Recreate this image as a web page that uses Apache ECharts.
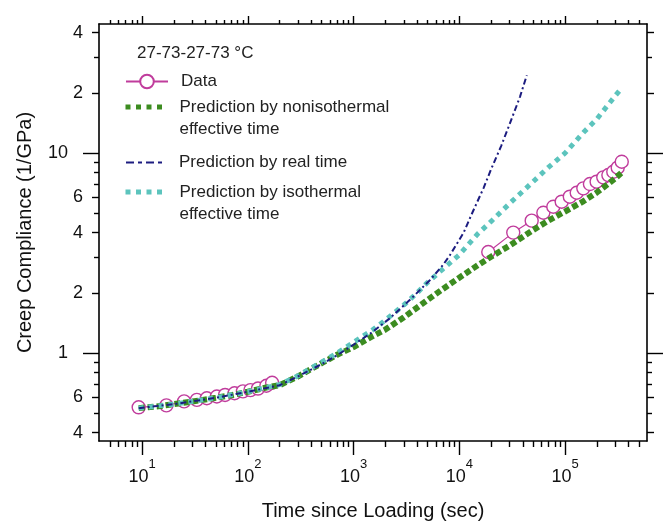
<!DOCTYPE html>
<html><head><meta charset="utf-8">
<script src="https://cdn.jsdelivr.net/npm/echarts@6/dist/echarts.min.js"></script>
<style>html,body{margin:0;padding:0;background:#fff}#c{width:667px;height:524px}</style>
</head><body><div id="c"></div>
<script>
const FONT = '"Liberation Sans", Arial, sans-serif';

// ---- measured data (time in s, compliance in 1/GPa) ----
const dataTime = [9.3, 17, 25, 33, 41, 51, 61, 75, 90, 106, 125, 150, 170,
  18800, 32400, 48400, 62400, 77500, 93000, 111000, 129000, 149000, 172000, 199000, 230000, 257000, 286000, 315000, 344000];
const dataCompliance = [0.535, 0.547, 0.573, 0.583, 0.594, 0.606, 0.617, 0.629, 0.643, 0.652, 0.664, 0.686, 0.71,
  3.2, 4.0, 4.59, 5.03, 5.39, 5.71, 6.05, 6.33, 6.66, 7.0, 7.19, 7.56, 7.76, 8.06, 8.45, 9.05];

// ---- prediction by nonisothermal effective time ----
const nonisoTime = [9.3, 15, 20, 30, 50, 70, 100, 150, 200, 300, 500, 700, 1000, 1500, 2000, 3000, 5000, 7000,
  10000, 15000, 20000, 30000, 50000, 70000, 100000, 150000, 200000, 250000, 300000, 340000];
const nonisoCompliance = [0.53, 0.543, 0.555, 0.572, 0.597, 0.615, 0.64, 0.672, 0.69, 0.765, 0.89, 0.98, 1.07, 1.21, 1.31, 1.51, 1.84, 2.09,
  2.38, 2.75, 3.03, 3.45, 4.12, 4.6, 5.1, 5.75, 6.35, 6.95, 7.5, 7.95];

// ---- prediction by real time ----
const realTime = [9.3, 20, 50, 100, 200, 300, 500, 700, 1000, 1500, 2200, 3400, 5300, 7000, 8200,
  11000, 13000, 17000, 20000, 25000, 30000, 37500, 43500];
const realCompliance = [0.53, 0.555, 0.597, 0.64, 0.69, 0.765, 0.88, 0.975, 1.10, 1.27, 1.49, 1.84, 2.32, 2.75, 3.1,
  4.0, 4.9, 6.7, 8.3, 10.9, 14.0, 19.1, 24.5];

// ---- prediction by isothermal effective time ----
const isoTime = [9.3, 20, 50, 100, 200, 300, 500, 700, 1000, 1500, 2000, 3000, 4000, 5000, 7000,
  10000, 15000, 20000, 30000, 50000, 70000, 100000, 150000, 200000, 300000, 345000];
const isoCompliance = [0.53, 0.555, 0.597, 0.64, 0.695, 0.77, 0.90, 1.0, 1.13, 1.30, 1.46, 1.74, 2.0, 2.25, 2.63,
  3.1, 3.95, 4.55, 5.6, 7.2, 8.5, 10.0, 12.7, 14.8, 19.4, 21.2];

// ---- axes ----
const xMin = 3.92, xMax = 5.96e5, yMin = 0.363, yMax = 44.2;
const xMajorTicks = [10, 100, 1000, 10000, 100000];
const xMajorExponents = ['1', '2', '3', '4', '5'];
const xMinorTicks = [5, 6, 7, 8, 9, 20, 30, 40, 50, 60, 70, 80, 90, 200, 300, 400, 500, 600, 700, 800, 900,
  2000, 3000, 4000, 5000, 6000, 7000, 8000, 9000, 20000, 30000, 40000, 50000, 60000, 70000, 80000, 90000,
  200000, 300000, 400000, 500000];
const yMajorTicks = [1, 10];
const yMajorLabels = ['1', '10'];
const yMidTicks = [0.4, 0.6, 2, 4, 6, 20, 40];
const yMidLabels = ['4', '6', '2', '4', '6', '2', '4'];
const yMinorTicks = [0.5, 0.7, 0.8, 0.9, 3, 5, 7, 8, 9, 30];

const lg = Math.log10;
function findLabel(ticks, labels, v) {
  for (let i = 0; i < ticks.length; i++) if (Math.abs(lg(ticks[i]) - v) < 1e-6) return labels[i];
  return '';
}
function tickAxis(dim, position, ticks, len, showLine, label) {
  const lo = dim === 'x' ? lg(xMin) : lg(yMin);
  const hi = dim === 'x' ? lg(xMax) : lg(yMax);
  const ax = {
    type: 'value', gridIndex: 0, position: position, min: lo, max: hi,
    axisLine: { show: showLine, onZero: false, lineStyle: { color: '#000', width: 1.6 } },
    axisTick: { show: true, inside: false, length: len, customValues: ticks.map(lg), lineStyle: { color: '#000', width: 1.4 } },
    axisLabel: { show: false },
    splitLine: { show: false }, silent: true
  };
  if (label) ax.axisLabel = Object.assign({ show: true, customValues: ticks.map(lg) }, label);
  return ax;
}

const magenta = '#c03c9c', green = '#3c8c20', navy = '#1c1c80', teal = '#5cc4bd';
const pairs = (a, b) => a.map((t, i) => [t, b[i]]);
// measured points are joined only within each recording block (no line across the long gap)
function dataPairs(a, b) {
  const out = [];
  a.forEach((t, i) => {
    if (i > 0 && t / a[i - 1] > 3) out.push([Math.sqrt(t * a[i - 1]), '-']);
    out.push([t, b[i]]);
  });
  return out;
}

const nameData = 'Data';
const nameNoniso = 'Prediction by nonisothermal\neffective time';
const nameReal = 'Prediction by real time';
const nameIso = 'Prediction by isothermal\neffective time';

const legendText = { fontFamily: FONT, fontSize: 17, color: '#222' };
const hideSymbol = { opacity: 0 };

const option = {
  animation: false,
  backgroundColor: '#fff',
  textStyle: { fontFamily: FONT },
  title: { text: '27-73-27-73 °C', left: 137, top: 45, padding: 0,
    textStyle: { fontFamily: FONT, fontSize: 17, fontWeight: 'normal', color: '#222' } },
  grid: { left: 99, right: 20, top: 24, bottom: 83, containLabel: false, outerBoundsMode: 'none' },
  legend: [
    { data: [nameData], left: 125, top: 73, padding: 0, itemWidth: 42, itemHeight: 17, selectedMode: false,
      textStyle: Object.assign({ padding: [0, 0, 0, 8] }, legendText) },
    { data: [nameNoniso], left: 123, top: 74, padding: 0, itemWidth: 40, itemHeight: 10, selectedMode: false,
      formatter: n => ' \n' + n, itemStyle: hideSymbol,
      lineStyle: { width: 5, type: [5, 5.5] },
      textStyle: Object.assign({ padding: [0, 0, 0, 9], lineHeight: 22 }, legendText) },
    { data: [nameReal], left: 125, top: 154, padding: 0, itemWidth: 38, itemHeight: 10, selectedMode: false,
      itemStyle: hideSymbol,
      lineStyle: { width: 2, type: [8, 4, 4, 4] },
      textStyle: Object.assign({ padding: [0, 0, 0, 10] }, legendText) },
    { data: [nameIso], left: 123, top: 159, padding: 0, itemWidth: 40, itemHeight: 10, selectedMode: false,
      formatter: n => ' \n' + n, itemStyle: hideSymbol,
      lineStyle: { width: 5, type: [5, 5.5] },
      textStyle: Object.assign({ padding: [0, 0, 0, 9], lineHeight: 22 }, legendText) }
  ],
  xAxis: [
    { type: 'log', logBase: 10, gridIndex: 0, min: xMin, max: xMax, show: false, splitLine: { show: false } },
    tickAxis('x', 'bottom', xMajorTicks, 14, true, {
      margin: 17,
      formatter: v => '{b|10}{s|' + findLabel(xMajorTicks, xMajorExponents, v) + '}',
      rich: {
        b: { fontFamily: FONT, fontSize: 18, color: '#111', lineHeight: 28, verticalAlign: 'bottom' },
        s: { fontFamily: FONT, fontSize: 13, color: '#111', lineHeight: 12, verticalAlign: 'top' }
      }
    }),
    tickAxis('x', 'bottom', xMinorTicks, 6, false, null),
    tickAxis('x', 'top', xMajorTicks, 8, true, null),
    tickAxis('x', 'top', xMinorTicks, 4, false, null)
  ],
  yAxis: [
    { type: 'log', logBase: 10, gridIndex: 0, min: yMin, max: yMax, show: false, splitLine: { show: false } },
    tickAxis('y', 'left', yMajorTicks, 16, true, {
      margin: 31, fontFamily: FONT, fontSize: 18, color: '#111',
      formatter: v => findLabel(yMajorTicks, yMajorLabels, v)
    }),
    tickAxis('y', 'left', yMidTicks, 7, false, {
      margin: 16, fontFamily: FONT, fontSize: 18, color: '#111',
      formatter: v => findLabel(yMidTicks, yMidLabels, v)
    }),
    tickAxis('y', 'left', yMinorTicks, 5, false, null),
    tickAxis('y', 'right', yMajorTicks, 16, true, null),
    tickAxis('y', 'right', yMidTicks, 7, false, null),
    tickAxis('y', 'right', yMinorTicks, 5, false, null)
  ],
  series: [
    { name: nameData, type: 'line', xAxisIndex: 0, yAxisIndex: 0, data: dataPairs(dataTime, dataCompliance),
      symbol: 'circle', symbolSize: 13, showSymbol: true, connectNulls: false,
      itemStyle: { color: '#fff', borderColor: magenta, borderWidth: 1.4 },
      lineStyle: { color: magenta, width: 1.2 }, z: 2 },
    { name: nameNoniso, type: 'line', xAxisIndex: 0, yAxisIndex: 0, data: pairs(nonisoTime, nonisoCompliance),
      symbol: 'none', color: green,
      lineStyle: { color: green, width: 6, type: [6, 3] }, z: 3 },
    { name: nameReal, type: 'line', xAxisIndex: 0, yAxisIndex: 0, data: pairs(realTime, realCompliance),
      symbol: 'none', color: navy,
      lineStyle: { color: navy, width: 2, type: [6, 3, 2, 3] }, z: 4 },
    { name: nameIso, type: 'line', xAxisIndex: 0, yAxisIndex: 0, data: pairs(isoTime, isoCompliance),
      symbol: 'none', color: teal,
      lineStyle: { color: teal, width: 5, type: [5, 5] }, z: 3 }
  ]
};
// axis titles
option.xAxis[1].name = 'Time since Loading (sec)';
option.xAxis[1].nameLocation = 'middle';
option.xAxis[1].nameGap = 60;
option.xAxis[1].nameTextStyle = { fontFamily: FONT, fontSize: 20, color: '#111' };
option.yAxis[1].name = 'Creep Compliance (1/GPa)';
option.yAxis[1].nameLocation = 'middle';
option.yAxis[1].nameGap = 64;
option.yAxis[1].nameRotate = 90;
option.yAxis[1].nameTextStyle = { fontFamily: FONT, fontSize: 20, color: '#111' };

const chart = echarts.init(document.getElementById('c'), null, { renderer: 'canvas' });
chart.setOption(option);
</script></body></html>
